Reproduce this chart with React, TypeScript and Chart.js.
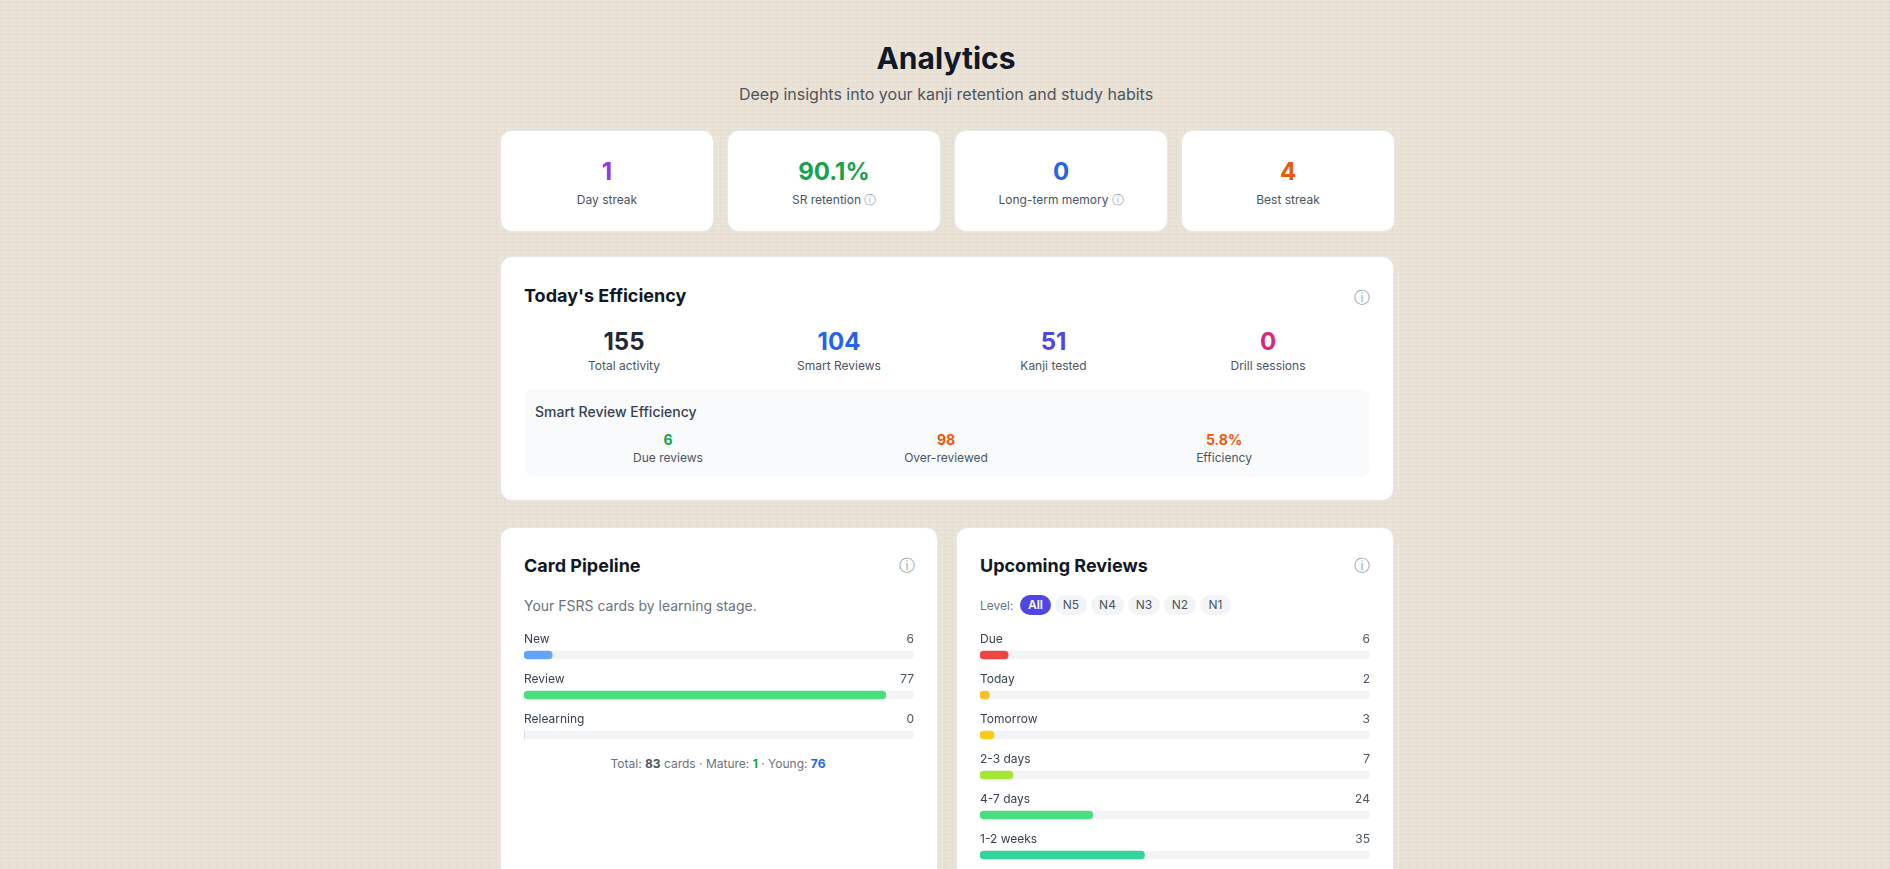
import React, { useEffect, useRef } from 'react';
import Chart from 'chart.js/auto';

const statValues = ['1', '90.1%', '0', '4'];
const statLabels = ['Day streak', 'SR retention', 'Long-term memory', 'Best streak'];
const activityValues = ['155', '104', '51', '0'];
const activityLabels = ['Total activity', 'Smart Reviews', 'Kanji tested', 'Drill sessions'];
const smartValues = ['6', '98', '5.8%'];
const smartLabels = ['Due reviews', 'Over-reviewed', 'Efficiency'];
const levels = ['All', 'N5', 'N4', 'N3', 'N2', 'N1'];

const totalCards = 83;
const pipelineLabels = ['New', 'Review', 'Relearning'];
const pipelineValues = [6, 77, 0];
const pipelineColors = ['#60a5fa', '#4ade80', '#a78bfa'];
const upcomingLabels = ['Due', 'Today', 'Tomorrow', '2-3 days', '4-7 days', '1-2 weeks'];
const upcomingValues = [6, 2, 3, 7, 24, 35];
const upcomingColors = ['#ef4444', '#fbbf24', '#facc15', '#a3e635', '#4ade80', '#34d399'];

const FONT = 'Inter, "Noto Sans", sans-serif';

// row names and counts sit above each bar instead of on an axis
const rowLabels = {
  id: 'rowLabels',
  afterDatasetsDraw(chart: Chart) {
    const { ctx, chartArea, scales } = chart;
    const labels = chart.data.labels as string[];
    const values = chart.data.datasets[1].data as number[];
    ctx.save();
    ctx.font = `12px ${FONT}`;
    ctx.textBaseline = 'middle';
    labels.forEach((label, i) => {
      const y = scales.y.getPixelForValue(i) - 16;
      ctx.fillStyle = '#374151';
      ctx.textAlign = 'left';
      ctx.fillText(label, chartArea.left, y);
      ctx.fillStyle = '#4b5563';
      ctx.textAlign = 'right';
      ctx.fillText(String(values[i]), chartArea.right, y);
    });
    ctx.restore();
  },
};

interface BarsProps {
  labels: string[];
  values: number[];
  colors: string[];
  left: number;
}

const Bars: React.FC<BarsProps> = ({ labels, values, colors, left }) => {
  const canvasRef = useRef<HTMLCanvasElement | null>(null);

  useEffect(() => {
    if (!canvasRef.current) return;
    const chart = new Chart(canvasRef.current, {
      type: 'bar',
      data: {
        labels,
        datasets: [
          {
            data: labels.map(() => totalCards),
            backgroundColor: '#f3f4f6',
            order: 2,
          },
          {
            data: values,
            backgroundColor: colors,
            order: 1,
          },
        ],
      },
      options: {
        indexAxis: 'y',
        responsive: false,
        animation: false,
        layout: { padding: { top: 10 } },
        datasets: {
          bar: { grouped: false, barThickness: 8, borderRadius: 4, borderSkipped: false },
        },
        scales: {
          x: { display: false, min: 0, max: totalCards },
          y: { display: false },
        },
        plugins: { legend: { display: false }, tooltip: { enabled: false } },
      },
      plugins: [rowLabels],
    });
    return () => chart.destroy();
  }, [labels, values, colors]);

  return (
    <canvas
      ref={canvasRef}
      width={390}
      height={10 + labels.length * 40}
      style={{ position: 'absolute', left, top: 625 }}
    />
  );
};

interface TextProps {
  x: number;
  y: number;
  size: number;
  color: string;
  weight?: number;
  align?: 'left' | 'center';
  children: React.ReactNode;
}

const Text: React.FC<TextProps> = ({ x, y, size, color, weight = 400, align = 'center', children }) => (
  <div
    style={{
      position: 'absolute',
      left: x,
      top: y,
      transform: align === 'center' ? 'translate(-50%, -50%)' : 'translateY(-50%)',
      fontSize: size,
      fontWeight: weight,
      color,
      whiteSpace: 'nowrap',
      lineHeight: 1.2,
    }}
  >
    {children}
  </div>
);

const Card: React.FC<{ x: number; y: number; w: number; h: number; r?: number }> = ({ x, y, w, h, r = 12 }) => (
  <div
    style={{
      position: 'absolute',
      left: x,
      top: y,
      width: w,
      height: h,
      boxSizing: 'border-box',
      background: '#fff',
      border: '1px solid #e5e7eb',
      borderRadius: r,
    }}
  />
);

const Info: React.FC<{ x: number; y: number }> = ({ x, y }) => (
  <Text x={x} y={y} size={16} color="#9ca3af">ⓘ</Text>
);

const statX = [606.5, 833, 1053.5, 1287.5];
const activityX = [624, 839, 1053.5, 1268];
const smartX = [668, 946, 1224];
const statColors = ['#9333ea', '#16a34a', '#2563eb', '#ea580c'];
const activityColors = ['#1f2937', '#2563eb', '#4f46e5', '#db2777'];
const smartColors = ['#16a34a', '#ea580c', '#ea580c'];
const pillBox = [[1020, 31], [1055, 32], [1091, 33], [1128, 32], [1164, 32], [1200, 31]];

export default function App() {
  return (
    <div
      style={{
        position: 'fixed',
        inset: 0,
        overflow: 'hidden',
        fontFamily: FONT,
        backgroundColor: '#e9e1d4',
        backgroundImage:
          'repeating-linear-gradient(0deg, rgba(255,255,255,0.12) 0 1px, transparent 1px 4px), repeating-linear-gradient(90deg, rgba(120,100,70,0.04) 0 1px, transparent 1px 8px)',
      }}
    >
      <Text x={946} y={58} size={30} weight={700} color="#111827">Analytics</Text>
      <Text x={946} y={95} size={16} color="#4b5563">Deep insights into your kanji retention and study habits</Text>

      {statValues.map((v, i) => (
        <Card key={i} x={500 + i * 227} y={130} w={214} h={102} />
      ))}
      {statValues.map((v, i) => (
        <Text key={i} x={607 + i * 227} y={172} size={24} weight={700} color={statColors[i]}>{v}</Text>
      ))}
      {statLabels.map((l, i) => (
        <Text key={l} x={607 + i * 227} y={199.5} size={12} color="#4b5563">
          {l}
          {(i === 1 || i === 2) && <span style={{ color: '#9ca3af', marginLeft: 3 }}>ⓘ</span>}
        </Text>
      ))}

      <Card x={500} y={256} w={894} h={245} />
      <Text x={524} y={296} size={18} weight={700} color="#111827" align="left">Today's Efficiency</Text>
      <Info x={1362} y={297.5} />
      {activityValues.map((v, i) => (
        <Text key={i} x={activityX[i]} y={341.5} size={24} weight={700} color={activityColors[i]}>{v}</Text>
      ))}
      {activityLabels.map((l, i) => (
        <Text key={l} x={activityX[i]} y={365.5} size={12} color="#4b5563">{l}</Text>
      ))}
      <div style={{ position: 'absolute', left: 525, top: 389, width: 844, height: 88, background: '#f9fafb', borderRadius: 8 }} />
      <Text x={535} y={412} size={14} weight={500} color="#374151" align="left">Smart Review Efficiency</Text>
      {smartValues.map((v, i) => (
        <Text key={i} x={smartX[i]} y={440} size={14} weight={700} color={smartColors[i]}>{v}</Text>
      ))}
      {smartLabels.map((l, i) => (
        <Text key={l} x={smartX[i]} y={457.5} size={12} color="#4b5563">{l}</Text>
      ))}

      <Card x={500} y={527} w={438} h={400} />
      <Text x={524} y={565.5} size={18} weight={700} color="#111827" align="left">Card Pipeline</Text>
      <Info x={906.5} y={565.5} />
      <Text x={524} y={606} size={14} color="#6b7280" align="left">Your FSRS cards by learning stage.</Text>
      <Bars labels={pipelineLabels} values={pipelineValues} colors={pipelineColors} left={524} />
      <Text x={718} y={763.5} size={12} color="#6b7280">
        Total: <b style={{ color: '#4b5563' }}>83</b> cards · Mature: <b style={{ color: '#16a34a' }}>1</b> · Young: <b style={{ color: '#2563eb' }}>76</b>
      </Text>

      <Card x={956} y={527} w={438} h={400} />
      <Text x={980} y={565.5} size={18} weight={700} color="#111827" align="left">Upcoming Reviews</Text>
      <Info x={1362} y={565.5} />
      <Text x={980} y={605.5} size={12} color="#6b7280" align="left">Level:</Text>
      {levels.map((l, i) => (
        <div
          key={l}
          style={{
            position: 'absolute',
            left: pillBox[i][0],
            top: 595,
            width: pillBox[i][1],
            height: 20,
            lineHeight: '20px',
            textAlign: 'center',
            fontSize: 12,
            borderRadius: 10,
            background: i === 0 ? '#4f46e5' : '#f3f4f6',
            color: i === 0 ? '#fff' : '#4b5563',
            fontWeight: i === 0 ? 600 : 400,
          }}
        >
          {l}
        </div>
      ))}
      <Bars labels={upcomingLabels} values={upcomingValues} colors={upcomingColors} left={980} />
    </div>
  );
}
